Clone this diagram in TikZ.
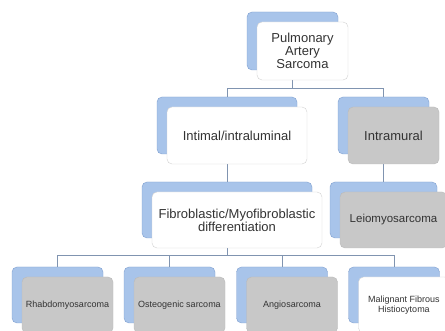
\documentclass[tikz,border=0pt]{standalone}
\usepackage{fontspec}
\setmainfont{Liberation Sans}
\usetikzlibrary{positioning}
\definecolor{backblue}{RGB}{168,196,234}
\definecolor{blueedge}{RGB}{128,160,208}
\definecolor{frontgrey}{RGB}{200,200,200}
\definecolor{linkgrey}{RGB}{128,148,176}

\begin{document}
\begin{tikzpicture}[x=1pt, y=-1pt,
    every node/.style={font=\fontsize{13}{13}\selectfont, text=black!80, align=center, inner sep=2pt},
    backbox/.style={rectangle, rounded corners=5pt, draw=blueedge, fill=backblue, minimum width=91pt, minimum height=57pt},
    frontbox/.style={rectangle, rounded corners=5pt, draw=gray!35, fill=white, minimum width=91pt, minimum height=57pt, xshift=10pt, yshift=-10pt},
    greybox/.style={frontbox, draw=gray!55, fill=frontgrey},
    small/.style={font=\fontsize{9}{10}\selectfont},
    link/.style={draw=linkgrey, line width=1pt}]
    \clip (0,0) rectangle (445,331);
    \fill[white] (0,0) rectangle (445,331);
    % back shapes
    \node[backbox, minimum height=58pt] (sarcoma-bg) at (292.5,41) {};
    \node[backbox, minimum width=140pt] (intimal-bg) at (227,125.5) {};
    \node[backbox] (intramural-bg) at (383.5,125.5) {};
    \node[backbox, minimum width=170pt, minimum height=56pt] (fibro-bg) at (227,210) {};
    \node[backbox, minimum width=107pt, minimum height=56pt] (leio-bg) at (383.5,210) {};
    \node[backbox, minimum height=56pt] (rhabdo-bg) at (57.5,295) {};
    \node[backbox, minimum height=56pt] (osteo-bg) at (169.5,295) {};
    \node[backbox, minimum height=56pt] (angio-bg) at (282,295) {};
    \node[backbox, minimum height=56pt] (mfh-bg) at (394,295) {};
    % connectors
    \draw[link] (sarcoma-bg.south) -- ++(0,18) -| (intimal-bg.north);
    \draw[link] (sarcoma-bg.south) -- ++(0,18) -| (intramural-bg.north);
    \draw[link] (intimal-bg.south) -- (fibro-bg.north);
    \draw[link] (intramural-bg.south) -- (leio-bg.north);
    \foreach \child in {rhabdo,osteo,angio,mfh}
        \draw[link] (fibro-bg.south) -- ++(0,17) -| (\child-bg.north);
    % front shapes
    \node[frontbox, minimum height=58pt] (sarcoma) at (sarcoma-bg) {Pulmonary\\Artery\\Sarcoma};
    \node[frontbox, minimum width=140pt] (intimal) at (intimal-bg) {Intimal/intraluminal};
    \node[greybox] (intramural) at (intramural-bg) {Intramural};
    \node[frontbox, minimum width=170pt, minimum height=56pt] (fibro) at (fibro-bg) {Fibroblastic/Myofibroblastic\\differentiation};
    \node[greybox, minimum width=107pt, minimum height=56pt, font=\fontsize{11.5}{12}\selectfont] (leio) at (leio-bg) {Leiomyosarcoma};
    \node[greybox, small, minimum height=56pt] (rhabdo) at (rhabdo-bg) {Rhabdomyosarcoma};
    \node[greybox, small, minimum height=56pt] (osteo) at (osteo-bg) {Osteogenic sarcoma};
    \node[greybox, small, minimum height=56pt] (angio) at (angio-bg) {Angiosarcoma};
    \node[frontbox, small, minimum height=56pt] (mfh) at (mfh-bg) {Malignant Fibrous\\Histiocytoma};
\end{tikzpicture}
\end{document}
